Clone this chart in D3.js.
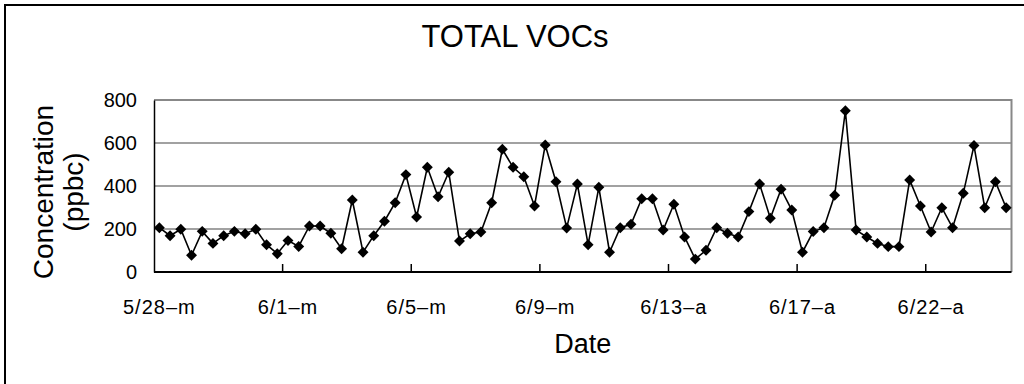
<!DOCTYPE html>
<html>
<head>
<meta charset="utf-8">
<script src="https://cdn.jsdelivr.net/npm/d3@7"></script>
<style>
  html, body { margin: 0; padding: 0; background: #fff; }
  svg { display: block; font-family: "Liberation Sans", Arial, sans-serif; }
</style>
</head>
<body>
<svg id="chart" width="1024" height="384"></svg>
<script>
// ---- data ----
const title = "TOTAL VOCs";
const yAxisTitle = ["Concentration", "(ppbc)"];
const xAxisTitle = "Date";
const tickLabels = ["5/28\u2013m", "6/1\u2013m", "6/5\u2013m", "6/9\u2013m", "6/13\u2013a", "6/17\u2013a", "6/22\u2013a"];
const labelInterval = 12;
const yTicks = [0, 200, 400, 600, 800];
const values = [
  206, 169, 199, 78, 189, 133, 169, 189, 178, 199,
  127, 85, 146, 119, 214, 214, 180, 108, 335, 92,
  169, 236, 322, 453, 256, 487, 350, 464, 144, 178,
  186, 322, 571, 487, 443, 307, 591, 420, 205, 409,
  127, 394, 92, 206, 222, 341, 341, 195, 315, 163,
  60, 101, 206, 180, 163, 281, 409, 250, 385, 288,
  92, 188, 206, 357, 750, 195, 163, 133, 118, 118,
  428, 307, 186, 299, 206, 366, 588, 299, 420, 299
];

// ---- layout ----
const svg = d3.select("#chart");
const plot = { left: 154, right: 1011.5, top: 100, bottom: 272 };

// outer frame
svg.append("rect")
  .attr("x", 5).attr("y", 5).attr("width", 1040).attr("height", 400)
  .attr("fill", "none").attr("stroke", "#000").attr("stroke-width", 2);

const x = d3.scaleBand()
  .domain(d3.range(values.length))
  .range([plot.left, plot.right])
  .padding(0);
const y = d3.scaleLinear().domain([0, 800]).range([plot.bottom, plot.top]);

// gridlines
svg.append("g").selectAll("line")
  .data(yTicks.filter(t => t > 0 && t < 800))
  .join("line")
  .attr("x1", plot.left).attr("x2", plot.right)
  .attr("y1", d => y(d)).attr("y2", d => y(d))
  .attr("stroke", "#444").attr("stroke-width", 1.2);

// top & right border (gray)
svg.append("path")
  .attr("d", `M${plot.left},${y(800)}H${plot.right}V${plot.bottom}`)
  .attr("fill", "none").attr("stroke", "#888").attr("stroke-width", 2);

// y axis
const yAxis = d3.axisLeft(y).tickValues(yTicks).tickSize(0).tickPadding(17);
const gy = svg.append("g").attr("transform", `translate(${plot.left},0)`).call(yAxis);
gy.select(".domain").attr("stroke", "#000").attr("stroke-width", 1.5);
gy.selectAll("text").attr("font-size", 20).attr("fill", "#000")
  .attr("font-family", "'Liberation Sans', Arial, sans-serif");

// x axis: ticks between categories every labelInterval, labels at category centers
const tickPos = d3.range(labelInterval, values.length, labelInterval);
svg.append("g").selectAll("line")
  .data(tickPos)
  .join("line")
  .attr("x1", d => x(d)).attr("x2", d => x(d))
  .attr("y1", plot.bottom).attr("y2", plot.bottom - 8)
  .attr("stroke", "#000").attr("stroke-width", 1.5);

const xAxis = d3.axisBottom(x)
  .tickValues(d3.range(0, values.length, labelInterval))
  .tickFormat((d, i) => tickLabels[i])
  .tickSize(0).tickPadding(28);
const gx = svg.append("g").attr("transform", `translate(0,${plot.bottom})`).call(xAxis);
gx.select(".domain").remove();
gx.selectAll("text").attr("font-size", 20).attr("fill", "#000")
  .attr("letter-spacing", 1)
  .attr("font-family", "'Liberation Sans', Arial, sans-serif");
svg.append("line")
  .attr("x1", plot.left).attr("x2", plot.right)
  .attr("y1", plot.bottom).attr("y2", plot.bottom)
  .attr("stroke", "#000").attr("stroke-width", 2);

// line
const line = d3.line()
  .x((d, i) => x(i) + x.bandwidth() / 2)
  .y(d => y(d));
svg.append("path")
  .datum(values)
  .attr("d", line)
  .attr("fill", "none").attr("stroke", "#000").attr("stroke-width", 1.6);

// diamond markers
const diamond = d3.symbol().type(d3.symbolDiamond2).size(76);
svg.append("g").selectAll("path")
  .data(values)
  .join("path")
  .attr("transform", (d, i) => `translate(${x(i) + x.bandwidth() / 2},${y(d)})`)
  .attr("d", diamond)
  .attr("fill", "#000");

// titles
svg.append("text")
  .attr("x", 515).attr("y", 47)
  .attr("text-anchor", "middle").attr("font-size", 31)
  .text(title);

svg.append("text")
  .attr("x", (plot.left + plot.right) / 2).attr("y", 353)
  .attr("text-anchor", "middle").attr("font-size", 27)
  .text(xAxisTitle);

const yt = svg.append("text")
  .attr("transform", "translate(0,192) rotate(-90)")
  .attr("text-anchor", "middle").attr("font-size", 28);
yt.append("tspan").attr("x", 0).attr("y", 53).text(yAxisTitle[0]);
yt.append("tspan").attr("x", 0).attr("y", 83).text(yAxisTitle[1]);
</script>
</body>
</html>
